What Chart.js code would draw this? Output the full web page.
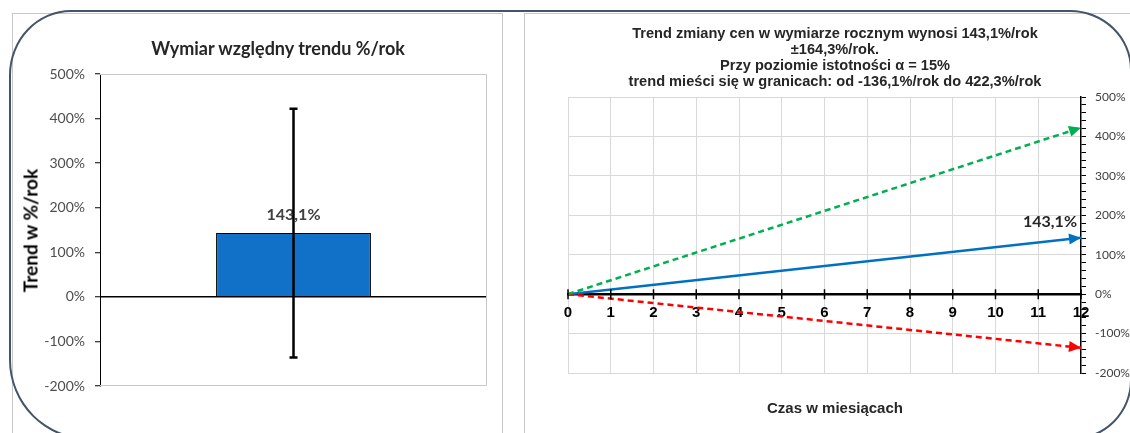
<!DOCTYPE html>
<html><head><meta charset="utf-8">
<script src="https://cdn.jsdelivr.net/npm/chart.js@4.4.1/dist/chart.umd.min.js"></script>
<style>
html,body{margin:0;padding:0;background:#fff;width:1130px;height:433px;overflow:hidden;position:relative;}
.frame{position:absolute;left:9px;top:10px;width:1123px;height:430px;border:2px solid #44546a;box-sizing:border-box;border-radius:62px 62px 60px 80px / 65px 60px 60px 80px;}
.panel{position:absolute;border:1px solid #c8c8c8;box-sizing:border-box;}
#pl{left:12px;top:13px;width:491px;height:440px;}
#pr{left:524px;top:13px;width:640px;height:440px;}
.wrap{position:absolute;}
#wl{left:14px;top:14px;width:489px;height:419px;}
#wr{left:525px;top:14px;width:605px;height:419px;}
.t{position:absolute;white-space:nowrap;text-align:center;}
#tl{left:78px;top:37px;width:400px;line-height:22px;font:bold 18px Lato,sans-serif;color:#262626;}
#ty{left:-70px;top:219px;width:200px;line-height:22px;font:bold 19px Lato,sans-serif;color:#000;transform:rotate(-90deg);}
#tr{left:585px;top:25px;width:500px;line-height:17.5px;font:bold 14.6px "Liberation Sans Narrow","Arial Narrow","Liberation Sans",sans-serif;color:#262626;}
#tx{left:735px;top:399px;width:200px;line-height:18px;font:bold 15px "Liberation Sans Narrow","Arial Narrow","Liberation Sans",sans-serif;color:#262626;}
</style></head>
<body>
<div class="panel" id="pl"></div>
<div class="panel" id="pr"></div>
<div class="wrap" id="wl"><canvas id="cl"></canvas></div>
<div class="wrap" id="wr"><canvas id="cr"></canvas></div>
<div class="t" id="tl">Wymiar względny trendu %/rok</div>
<div class="t" id="ty">Trend w %/rok</div>
<div class="t" id="tr">Trend zmiany cen w wymiarze rocznym wynosi 143,1%/rok<br>±164,3%/rok.<br>Przy poziomie istotności α = 15%<br>trend mieści się w granicach: od -136,1%/rok do 422,3%/rok</div>
<div class="t" id="tx">Czas w miesiącach</div>
<div class="frame"></div>
<script>
// ---- data ----
const barCategories = ['Trend'];
const barValues = [143.1];
const errLow = [-136.1];
const errHigh = [422.3];
const barLabels = ['143,1%'];
const yTickValues = [-200, -100, 0, 100, 200, 300, 400, 500];

const monthTicks = [0,1,2,3,4,5,6,7,8,9,10,11,12];
const lineX = [0, 12];
const trendLine = [0, 143.1];
const upperLine = [0, 422.3];
const lowerLine = [0, -136.1];
const trendLabel = '143,1%';

const NARROW = '"Liberation Sans Narrow","Arial Narrow","Liberation Sans",sans-serif';
const yMin = Math.min(...yTickValues), yMax = Math.max(...yTickValues);

// ---- left chart ----
const leftPlugin = {
  id: 'leftDecor',
  beforeDatasetsDraw(chart) {
    const {ctx, chartArea: a} = chart;
    ctx.save();
    ctx.strokeStyle = '#c8c8c8'; ctx.lineWidth = 1;
    ctx.beginPath();
    ctx.moveTo(a.left, a.top + 0.5); ctx.lineTo(a.right - 0.5, a.top + 0.5);
    ctx.lineTo(a.right - 0.5, a.bottom - 0.5); ctx.lineTo(a.left, a.bottom - 0.5);
    ctx.stroke();
    ctx.restore();
  },
  afterDatasetsDraw(chart) {
    const {ctx} = chart;
    const y = chart.scales.y;
    const meta = chart.getDatasetMeta(0);
    meta.data.forEach((bar, i) => {
      const x = bar.x;
      ctx.save();
      ctx.fillStyle = '#404040';
      ctx.font = 'bold 16px Lato, sans-serif';
      ctx.textAlign = 'center'; ctx.textBaseline = 'middle';
      ctx.fillText(barLabels[i], x, y.getPixelForValue(barValues[i]) - 18);
      const yl = y.getPixelForValue(errLow[i]);
      const yh = y.getPixelForValue(errHigh[i]);
      ctx.strokeStyle = '#000'; ctx.lineWidth = 2.5;
      ctx.beginPath();
      ctx.moveTo(x, yl); ctx.lineTo(x, yh);
      ctx.moveTo(x - 4, yl); ctx.lineTo(x + 4, yl);
      ctx.moveTo(x - 4, yh); ctx.lineTo(x + 4, yh);
      ctx.stroke();
      ctx.restore();
    });
  }
};

new Chart(document.getElementById('cl'), {
  type: 'bar',
  data: {
    labels: barCategories,
    datasets: [{
      data: barValues,
      backgroundColor: '#1170c8',
      borderColor: '#000',
      borderWidth: 1,
      categoryPercentage: 1,
      barPercentage: 0.4
    }]
  },
  options: {
    responsive: true, maintainAspectRatio: false, animation: false,
    layout: {padding: {top: 60, bottom: 47, right: 16, left: 0}},
    plugins: {legend: {display: false}, tooltip: {enabled: false}},
    scales: {
      x: {display: false},
      y: {
        min: yMin, max: yMax,
        afterFit(s) { s.width = 86; },
        afterBuildTicks(s) { s.ticks = yTickValues.map(v => ({value: v})); },
        ticks: {callback: v => v + '%', color: '#4d4d4d', font: {family: 'Lato', size: 14}, padding: 10},
        grid: {
          drawOnChartArea: true,
          color: c => (c.tick && c.tick.value === 0) ? '#000' : 'rgba(0,0,0,0)',
          lineWidth: 1.5,
          tickColor: '#000', tickLength: 5, tickWidth: 1
        },
        border: {color: '#000', width: 1}
      }
    }
  },
  plugins: [leftPlugin]
});

// ---- right chart ----
function arrowHead(ctx, x1, y1, x2, y2, color) {
  const a = Math.atan2(y2 - y1, x2 - x1), L = 12, W = 5.5;
  ctx.save();
  ctx.fillStyle = color;
  ctx.beginPath();
  ctx.moveTo(x2, y2);
  ctx.lineTo(x2 - L * Math.cos(a) + W * Math.sin(a), y2 - L * Math.sin(a) - W * Math.cos(a));
  ctx.lineTo(x2 - L * Math.cos(a) - W * Math.sin(a), y2 - L * Math.sin(a) + W * Math.cos(a));
  ctx.closePath(); ctx.fill();
  ctx.restore();
}

const rightPlugin = {
  id: 'rightDecor',
  afterDatasetsDraw(chart) {
    const {ctx} = chart;
    const xs = chart.scales.x, ys = chart.scales.y;
    const y0 = ys.getPixelForValue(0);
    ctx.save();
    ctx.strokeStyle = '#000'; ctx.lineWidth = 1.5;
    ctx.beginPath();
    monthTicks.forEach(m => {
      const px = xs.getPixelForValue(m);
      ctx.moveTo(px, y0 - 5); ctx.lineTo(px, y0 + 5);
    });
    ctx.stroke();
    ctx.restore();
    chart.data.datasets.forEach((ds, i) => {
      const meta = chart.getDatasetMeta(i);
      const p0 = meta.data[meta.data.length - 2], p1 = meta.data[meta.data.length - 1];
      arrowHead(ctx, p0.x, p0.y, p1.x, p1.y, ds.borderColor);
    });
    const bm = chart.getDatasetMeta(2);
    const end = bm.data[bm.data.length - 1];
    ctx.save();
    ctx.fillStyle = '#262626';
    ctx.font = 'bold 16px Lato, sans-serif';
    ctx.textAlign = 'right'; ctx.textBaseline = 'middle';
    ctx.fillText(trendLabel, end.x - 4, end.y - 16);
    ctx.restore();
  }
};

const pts = arr => lineX.map((x, i) => ({x: x, y: arr[i]}));

new Chart(document.getElementById('cr'), {
  type: 'scatter',
  data: {
    datasets: [
      {data: pts(upperLine), borderColor: '#00b050', borderDash: [6, 4], borderWidth: 2.5, showLine: true, pointRadius: 0},
      {data: pts(lowerLine), borderColor: '#ff0000', borderDash: [6, 4], borderWidth: 2.5, showLine: true, pointRadius: 0},
      {data: pts(trendLine), borderColor: '#0070c0', borderWidth: 2.5, showLine: true, pointRadius: 0}
    ]
  },
  options: {
    responsive: true, maintainAspectRatio: false, animation: false,
    layout: {padding: {top: 83, left: 43, right: 0, bottom: 60}},
    plugins: {legend: {display: false}, tooltip: {enabled: false}},
    scales: {
      x: {
        type: 'linear', position: {y: 0},
        min: monthTicks[0], max: monthTicks[monthTicks.length - 1],
        afterBuildTicks(s) { s.ticks = monthTicks.map(v => ({value: v})); },
        ticks: {color: '#000', font: {family: NARROW, size: 15, weight: 'bold'}, padding: 10, autoSkip: false, maxRotation: 0},
        grid: {
          color: c => (c.tick && c.tick.value === monthTicks[monthTicks.length - 1]) ? 'rgba(0,0,0,0)' : '#d9d9d9',
          drawTicks: false
        },
        border: {color: '#000', width: 2.5}
      },
      y: {
        position: 'right',
        min: yMin, max: yMax,
        afterFit(s) { s.width = 49; },
        afterBuildTicks(s) {
          const t = [];
          for (let i = 0; i < yTickValues.length; i++) {
            t.push({value: yTickValues[i]});
            if (i < yTickValues.length - 1) {
              const step = (yTickValues[i + 1] - yTickValues[i]) / 5;
              for (let k = 1; k < 5; k++) t.push({value: yTickValues[i] + k * step, minor: true});
            }
          }
          s.ticks = t;
        },
        ticks: {
          autoSkip: false,
          callback: (v) => yTickValues.includes(v) ? v + '%' : '',
          color: '#404040', font: {family: 'Lato', size: 12}, padding: 9
        },
        grid: {
          color: c => (c.tick && yTickValues.includes(c.tick.value) && c.tick.value !== 0) ? '#d9d9d9' : 'rgba(0,0,0,0)',
          tickColor: '#000', tickLength: 5
        },
        border: {color: '#000', width: 1.5}
      }
    }
  },
  plugins: [rightPlugin]
});
</script>
</body></html>
